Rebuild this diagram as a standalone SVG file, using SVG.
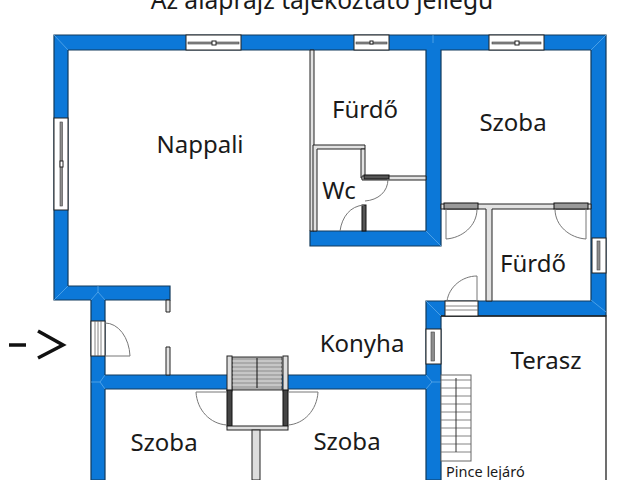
<svg xmlns="http://www.w3.org/2000/svg" width="640" height="480" viewBox="0 0 640 480">
<style>
.w{fill:#0c78d8;stroke:#123a5c;stroke-width:1.2}
.win{fill:#fff;stroke:#222;stroke-width:1}
.g{fill:#8d8d8d;stroke:#444;stroke-width:.6}
.t{fill:#e2e2e2;stroke:#222;stroke-width:1}
.d{fill:none;stroke:#777;stroke-width:1}
.s{stroke:#666;stroke-width:.8;fill:none}
.m{stroke:#5aa9ea;stroke-width:.8;fill:none}
text{font-family:"Noto Sans","Open Sans","Liberation Sans",sans-serif;fill:#1a1a1a;font-size:24px}
</style>
<rect width="640" height="480" fill="#fff"/>
<text x="322" y="9" text-anchor="middle" style="font-size:24.600px">Az alaprajz tájékoztató jellegű</text>
<g id="walls">
<path class="w" fill-rule="evenodd" d="M54 35H606V316H441V480H426V389H105V480H91V300H54ZM68 50V286H170V300H105V375H426V301H591V50H441V246H310V231H426V50Z"/>
<path class="m" d="M54 35L68 50M606 35L591 50M54 300L68 286M98 286V292L91 300M98 292L105 300M91 382H100L105 389M100 382L105 375M426 301L441 316M591 300L606 312M426 375L432 382L426 389M432 382H441M426 231L441 246M433 35V43"/>
<path d="M441 316H606V480" fill="none" stroke="#222" stroke-width="1.300"/>
</g>
<g id="window-top-1"><rect class="win" x="186" y="35" width="55" height="15"/><rect class="g" x="188" y="42" width="51" height="2"/><rect class="win" x="212" y="41" width="4" height="4"/></g>
<g id="window-top-2"><rect class="win" x="354" y="35" width="35" height="15"/><rect class="g" x="356" y="42" width="31" height="2"/><rect class="win" x="370" y="41" width="3" height="3"/></g>
<g id="window-top-3"><rect class="win" x="489" y="35" width="55" height="15"/><rect class="g" x="492" y="42" width="49" height="2"/><rect class="win" x="515" y="41" width="4" height="4"/></g>
<g id="window-left"><rect class="win" x="54" y="118" width="14" height="92"/><rect class="g" x="60" y="122" width="2.500" height="84"/><rect class="win" x="60" y="161" width="3" height="6"/></g>
<g id="window-right"><rect class="win" x="592" y="238" width="14" height="35"/><rect class="g" x="597" y="241" width="3" height="29"/></g>
<g id="window-konyha"><rect class="win" x="426" y="329" width="15" height="35"/><rect class="g" x="431" y="332" width="3.500" height="29"/></g>
<g id="partitions">
<path class="t" d="M310 50H314V231H310Z"/>
<path class="t" d="M313 145H365V149H317V231H313Z"/>
<path class="t" d="M361 149H365V178H361Z"/>
<path class="t" d="M362 176H426V180H362Z"/>
<rect x="364" y="175" width="25" height="4" fill="#555" stroke="#111"/>
<rect x="362" y="205" width="4" height="26" fill="#555" stroke="#111"/>
<path class="t" d="M441 204H591V209H492V301H486V209H441Z"/>
<rect x="444" y="203" width="34" height="6" fill="#999" stroke="#111"/>
<rect x="554" y="203" width="34" height="6" fill="#999" stroke="#111"/>
<path class="t" d="M166 300H170V312H166Z"/>
<path class="t" d="M166 347H170V375H166Z"/>
</g>
<g id="door-entry"><rect class="win" x="91" y="321" width="14" height="35"/><path class="s" d="M95 321V356M98 321V356M101 321V356"/><path class="d" d="M105 356H130A25 35 0 0 0 105 323"/></g>
<g id="door-wc"><path class="d" d="M388 179C388 192 378 200 365 201M340 231C342 217 350 206 364 205"/></g>
<g id="door-szoba-1"><path class="d" d="M446 209V239C462 238 477 226 477 209"/></g>
<g id="door-szoba-2"><path class="d" d="M586 209V239C570 238 555 226 555 209"/></g>
<g id="door-konyha"><rect class="win" x="445" y="301" width="33" height="15"/><path class="s" d="M445 306H478M445 310H478"/><path class="d" d="M447 301C449 287 462 276 477 276V301"/></g>
<g id="balcony">
<rect x="232" y="357" width="50" height="33" fill="#aaa" stroke="#333"/>
<path class="s" style="stroke:#f2f2f2" d="M232 361H282M232 365H282M232 369H282M232 373H282M232 377H282M232 381H282M232 385H282"/>
<path d="M257 358V388" stroke="#111" fill="none"/>
<rect x="227" y="356" width="5" height="35" fill="#ddd" stroke="#222"/>
<rect x="283" y="356" width="5" height="35" fill="#ddd" stroke="#222"/>
<rect x="227" y="390" width="5" height="36" fill="#444" stroke="#111"/>
<rect x="283" y="390" width="5" height="36" fill="#444" stroke="#111"/>
<rect x="227" y="426" width="61" height="4" fill="#ddd" stroke="#222"/>
<rect x="252" y="430" width="8" height="50" fill="#ddd" stroke="#222"/>
<path class="d" d="M227 392H196C197 410 210 424 227 425M288 392H318C317 410 304 424 288 425"/>
</g>
<g id="stairs">
<rect x="441" y="375" width="30" height="86" fill="#fff" stroke="#666"/>
<path class="s" d="M441 380H471M441 388H471M441 396H471M441 404H471M441 412H471M441 420H471M441 428H471M441 436H471M441 444H471M441 452H471"/>
<path d="M456 378V452" stroke="#333" fill="none"/>
</g>
<g id="labels">
<text x="200" y="153" text-anchor="middle">Nappali</text>
<text x="365" y="118" text-anchor="middle">Fürdő</text>
<text x="513" y="131" text-anchor="middle">Szoba</text>
<text x="339" y="199" text-anchor="middle">Wc</text>
<text x="533" y="272" text-anchor="middle">Fürdő</text>
<text x="362" y="352" text-anchor="middle">Konyha</text>
<text x="546" y="369" text-anchor="middle">Terasz</text>
<text x="164" y="451" text-anchor="middle">Szoba</text>
<text x="347" y="450" text-anchor="middle">Szoba</text>
<text x="446" y="477" style="font-size:14.500px">Pince lejáró</text>
</g>
<g id="entry-arrow" fill="none" stroke="#111" stroke-width="3.500">
<path d="M9 345H26"/>
<path d="M38 331L63 345L38 358"/>
</g>
</svg>
